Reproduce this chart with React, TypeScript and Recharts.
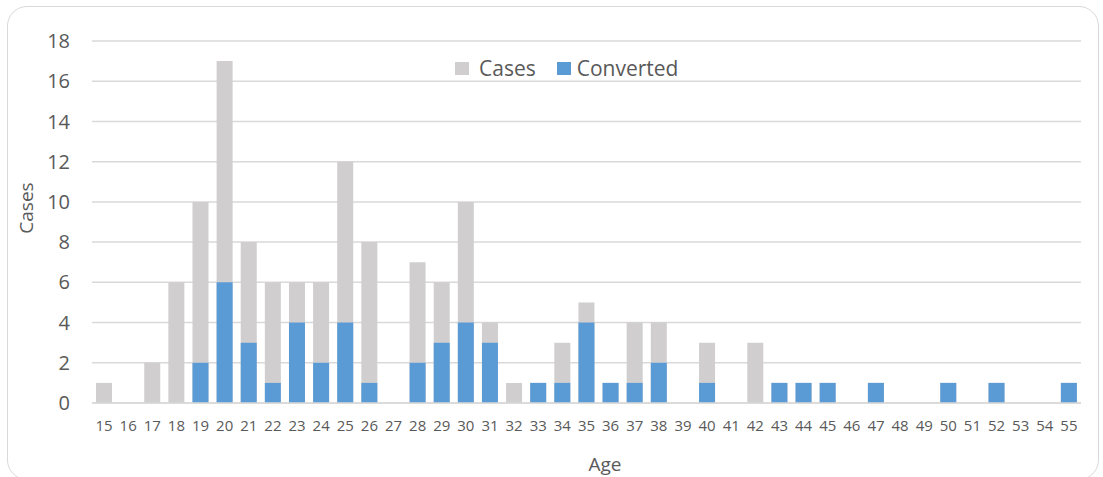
import { Bar, BarChart, CartesianGrid, Legend, XAxis, YAxis } from "recharts";

const ages = [
  15, 16, 17, 18, 19, 20, 21, 22, 23, 24, 25, 26, 27, 28, 29, 30, 31, 32, 33, 34, 35,
  36, 37, 38, 39, 40, 41, 42, 43, 44, 45, 46, 47, 48, 49, 50, 51, 52, 53, 54, 55,
];
const cases = [
  1, 0, 2, 6, 10, 17, 8, 6, 6, 6, 12, 8, 0, 7, 6, 10, 4, 1, 1, 3, 5,
  1, 4, 4, 0, 3, 0, 3, 1, 1, 1, 0, 1, 0, 0, 1, 0, 1, 0, 0, 1,
];
const converted = [
  0, 0, 0, 0, 2, 6, 3, 1, 4, 2, 4, 1, 0, 2, 3, 4, 3, 0, 1, 1, 4,
  1, 1, 2, 0, 1, 0, 0, 1, 1, 1, 0, 1, 0, 0, 1, 0, 1, 0, 0, 1,
];
const yTicks = [0, 2, 4, 6, 8, 10, 12, 14, 16, 18];

const data = ages.map((age, i) => ({
  age: String(age),
  Cases: cases[i],
  Converted: converted[i],
}));

const GRAY = "#D0CECE";
const BLUE = "#5B9BD5";
const TEXT = "#595959";
const GRID = "#D9D9D9";
const FONT = "'Open Sans', sans-serif";

function ChartLegend() {
  const items = [
    { name: "Cases", color: GRAY },
    { name: "Converted", color: BLUE },
  ];
  return (
    <div style={{ display: "flex", alignItems: "center", height: 24, lineHeight: "24px" }}>
      {items.map((it, i) => (
        <div key={it.name} style={{ display: "flex", alignItems: "center", marginRight: i === 0 ? 21 : 0 }}>
          <span style={{ width: 14, height: 13, background: it.color, marginRight: i === 0 ? 10 : 6, display: "inline-block" }} />
          <span style={{ fontFamily: FONT, fontSize: 21, color: TEXT }}>{it.name}</span>
        </div>
      ))}
    </div>
  );
}

export default function App() {
  return (
    <div style={{ position: "absolute", left: 0, top: 0, width: 1103, height: 477, overflow: "hidden", background: "#fff" }}>
      <div
        style={{
          position: "absolute",
          left: 7,
          top: 6,
          width: 1092,
          height: 474,
          border: `1px solid ${GRID}`,
          borderRadius: 20,
          boxSizing: "border-box",
        }}
      />
      <BarChart
        width={1103}
        height={477}
        data={data}
        margin={{ top: 41, right: 22, bottom: 0, left: 0 }}
        style={{ position: "absolute", left: 0, top: 0 }}
      >
        <CartesianGrid vertical={false} stroke={GRID} strokeWidth={1.5} />
        <XAxis
          xAxisId="cases"
          dataKey="age"
          interval={0}
          height={74}
          axisLine={{ stroke: GRID, strokeWidth: 1.5 }}
          tickLine={false}
          tickMargin={11}
          tick={{ fill: TEXT, fontSize: 15, fontFamily: FONT }}
          label={{
            content: () => (
              <text x={605} y={471} textAnchor="middle" fill={TEXT} fontSize={19} fontFamily={FONT}>
                Age
              </text>
            ),
          }}
        />
        <XAxis xAxisId="conv" dataKey="age" hide />
        <YAxis
          width={92}
          domain={[0, 18]}
          ticks={yTicks}
          axisLine={false}
          tickLine={false}
          tickMargin={16}
          tick={{ fill: TEXT, fontSize: 20, fontFamily: FONT }}
          label={{
            content: () => (
              <text
                x={26}
                y={208}
                transform="rotate(-90 26 208)"
                textAnchor="middle"
                dominantBaseline="central"
                fill={TEXT}
                fontSize={19}
                fontFamily={FONT}
              >
                Cases
              </text>
            ),
          }}
        />
        <Legend
          verticalAlign="middle"
          align="center"
          layout="horizontal"
          content={() => <ChartLegend />}
          wrapperStyle={{ top: 56, left: 455, width: "auto" }}
        />
        <Bar xAxisId="cases" dataKey="Cases" fill={GRAY} barSize={16} isAnimationActive={false} />
        <Bar xAxisId="conv" dataKey="Converted" fill={BLUE} barSize={16} isAnimationActive={false} />
      </BarChart>
    </div>
  );
}
